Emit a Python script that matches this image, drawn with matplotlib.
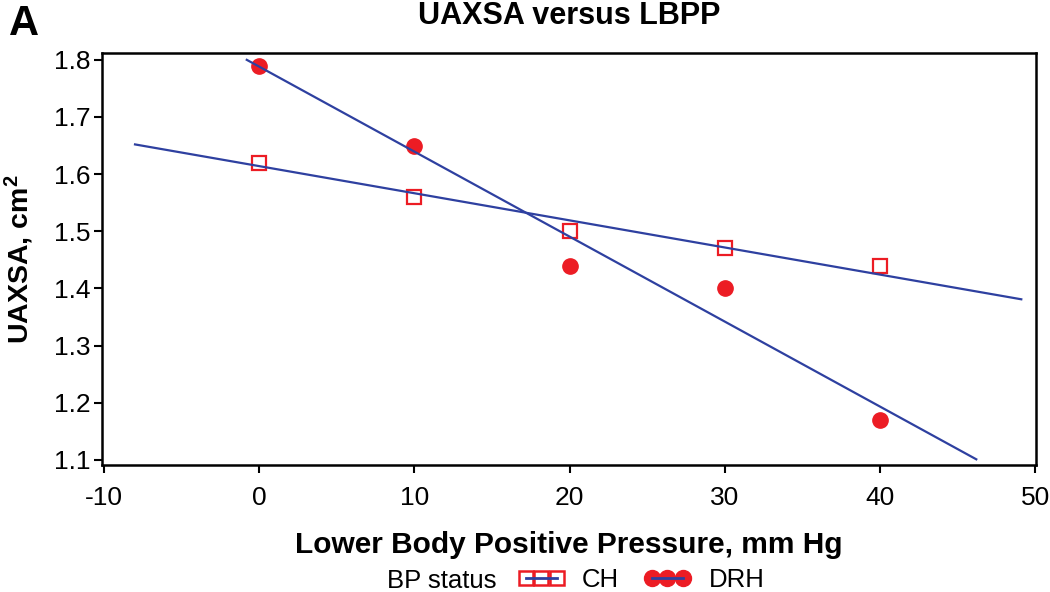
import matplotlib
matplotlib.use('Agg')
import matplotlib.pyplot as plt
from matplotlib.lines import Line2D
from matplotlib.legend_handler import HandlerTuple

plt.rcParams['font.family'] = ['Liberation Sans', 'DejaVu Sans']
plt.rcParams['axes.unicode_minus'] = False
plt.rcParams['mathtext.fontset'] = 'custom'
plt.rcParams['mathtext.bf'] = 'Liberation Sans:bold'

# LBPP levels, mm Hg
lbpp = [0, 10, 20, 30, 40]

# mean UAXSA, cm2
ch = [1.62, 1.56, 1.50, 1.47, 1.44]
drh = [1.79, 1.65, 1.44, 1.40, 1.17]

# regression line end points (x, y) as drawn
ch_fit_x = [-8.0, 49.1]
ch_fit_y = [1.652, 1.381]
drh_fit_x = [-0.8, 46.2]
drh_fit_y = [1.800, 1.101]

red = '#ec1c24'
blue = '#2e40a0'

fig = plt.figure(figsize=(10.5, 5.92), dpi=100)
ax = fig.add_axes([0.0971, 0.2145, 0.8896, 0.696])

# markers under the fit lines, as in the original
ax.plot(lbpp, ch, ls='none', marker='s', ms=9.5, mfc='none', mec=red, mew=1.6, zorder=2)
ax.plot(lbpp, drh, ls='none', marker='o', ms=11, mfc=red, mec=red, zorder=2)

ax.plot(ch_fit_x, ch_fit_y, color=blue, lw=1.6, zorder=3)
ax.plot(drh_fit_x, drh_fit_y, color=blue, lw=1.6, zorder=3)

ax.set_xlim(-10.13, 50.05)
ax.set_ylim(1.091, 1.812)
ax.set_xticks([-10, 0, 10, 20, 30, 40, 50])
ax.set_yticks([1.1, 1.2, 1.3, 1.4, 1.5, 1.6, 1.7, 1.8])
ax.set_yticklabels(['1.1', '1.2', '1.3', '1.4', '1.5', '1.6', '1.7', '1.8'])
ax.tick_params(direction='out', length=6, width=1.5, labelsize=19, pad=2)
ax.tick_params(axis='x', pad=9)
for s in ax.spines.values():
    s.set_linewidth(1.8)

ax.set_xlabel('Lower Body Positive Pressure, mm Hg', fontsize=21.5, fontweight='bold')
ax.xaxis.set_label_coords(0.5, -0.16)
ax.set_ylabel('UAXSA, cm$\\mathbf{^2}$', fontsize=20.5, fontweight='bold')
ax.yaxis.set_label_coords(-0.071, 0.5)
ax.set_title('UAXSA versus LBPP', fontsize=22, fontweight='bold', pad=21)

fig.text(0.009, 0.941, 'A', fontsize=30, fontweight='bold', va='baseline')

# legend row: markers with the blue line drawn over them
fig.text(0.3686, 0.006, 'BP status', fontsize=18.5, ha='left', va='baseline')
ch_mk = Line2D([], [], ls='none', marker='s', ms=10.5, mfc='none', mec=red, mew=1.8)
drh_mk = Line2D([], [], ls='none', marker='o', ms=11.5, mfc=red, mec=red)
ln = Line2D([], [], color=blue, lw=2)
fig.legend([(ch_mk, ln), (drh_mk, ln)], ['CH', 'DRH'], loc='center left',
           bbox_to_anchor=(0.4933, 0.021), ncol=2, numpoints=3, frameon=False,
           fontsize=18.5, handlelength=1.8, handletextpad=0.7, columnspacing=0.97,
           borderpad=0, borderaxespad=0,
           handler_map={tuple: HandlerTuple(ndivide=1)})

fig.savefig('out.png', dpi=100)
